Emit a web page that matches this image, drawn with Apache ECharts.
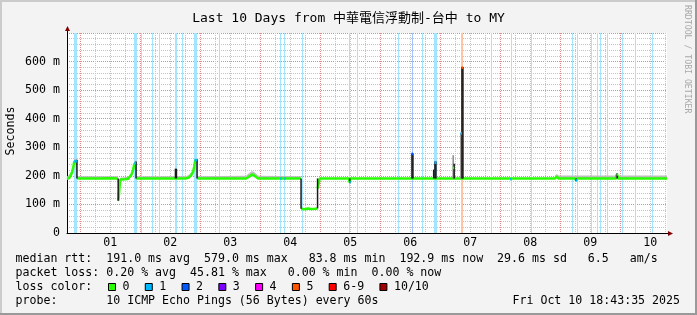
<!DOCTYPE html>
<html><head><meta charset="utf-8">
<script src="https://cdn.jsdelivr.net/npm/echarts@6/dist/echarts.min.js"></script>
<style>html,body{margin:0;padding:0;background:#f3f3f3}#c{width:697px;height:315px}</style>
</head><body><div id="c"></div>
<script>
// time axis in hours relative to Oct 1 00:00 (window: Sep 30 18:43:35 .. Oct 10 18:43:35)
const START_H = -5.2736;
const END_H = 234.7264;
const dayLabels = ['01','02','03','04','05','06','07','08','09','10'];
const titleText = 'Last 10 Days from 中華電信浮動制-台中 to MY';
const yName = 'Seconds';

// median rtt (ms) [hour, value]; null = break
const medianPts = [
 [-5.27,190],[-4.4,192],[-3.6,205],[-3.2,214],[-2.8,228],[-2.4,250],[-2.0,254],[-1.35,250],[-1.3,null],
 [-1.25,191],[8,191],[12,192],[15.0,191],[15.1,null],
 [15.3,113],[15.6,145],[16.0,187],[18.0,188],[19.2,190],[20.0,196],[20.6,206],[21.2,222],[21.6,240],[22.3,246],[22.35,null],
 [22.4,191],[30,191],[42.4,191],[43.6,195],[44.4,203],[45.2,214],[45.6,232],[46.0,254],[46.7,256],[46.75,null],
 [46.8,191],[66.4,191],[67.6,198],[68.8,205],[70.0,199],[71.2,191],[88.3,191],[88.35,null],
 [88.4,85],[90.0,83],[91.2,86],[92.4,84],[93.2,90],[94.0,85],[94.9,86],[94.95,null],
 [95.0,156],[95.4,160],[95.8,191],[107.5,191],[107.8,177],[108.1,191],[190.0,191],[190.6,199],[191.2,191],
 [198.0,191],[198.4,183],[198.8,191],[214.4,191],[214.8,204],[215.2,191],[234.73,191]
];
// dense smoke columns [hour, low, high]
const darkSmoke = [
 [-1.3,191,256],[15.2,113,191],[22.35,191,250],[38.1,191,225],[38.5,191,225],[46.75,191,258],
 [88.35,85,191],[94.95,86,191],[107.8,176,191],[132.7,191,278],[133.1,191,278],[141.4,191,222],
 [141.9,191,250],[142.3,191,250],[149.6,191,242],[152.7,191,581],[153.1,191,581],[198.4,182,191],[214.8,191,210]
];
const greySmoke = [[149.2,191,272],[152.3,191,350],[214.4,191,206]];
// light smoke band runs [hour, low, high]
const smokeRuns = [
 [[-5.27,187,198],[-4.4,188,203],[-3.6,198,216],[-2.8,212,238],[-2.4,236,259],[-1.35,240,259]],
 [[-1.25,189,199],[15.0,189,199]],
 [[16.0,184,193],[19.2,187,197],[20.0,192,204],[20.6,200,215],[21.2,214,232],[21.6,232,250],[22.3,238,252]],
 [[22.4,189,199],[42.4,189,199],[43.6,190,204],[44.4,196,212],[45.2,205,226],[45.6,222,244],[46.0,246,260],[46.7,248,260]],
 [[46.8,189,199],[66.4,189,200],[67.6,192,210],[68.8,197,217],[70.0,194,211],[71.2,189,200],[88.3,189,199]],
 [[190.0,189,200],[190.6,190,207],[191.2,189,201],[234.73,189,201]]
];
// packet loss periods [startHour, endHour, lossLevel]
const lossBands = [
 [-2.28,-1.08,1],[21.72,22.68,1],[24.4,24.8,1],[28.8,29.2,1],[31.6,32.0,1],[38.0,38.8,1],[40.8,41.2,1],
 [45.6,46.68,1],[55.6,56.0,1],[80.0,80.4,1],[81.6,82.0,1],[88.6,89.0,1],[107.6,108.0,1],[110.8,111.2,1],
 [127.2,127.6,1],[132.7,133.3,2],[136.6,137.0,1],[141.72,142.68,1],[152.2,152.6,1],[152.6,153.0,5],
 [164.2,164.6,1],[172.2,172.6,1],[180.2,180.6,1],[196.8,197.2,1],[198.6,199.0,1],[204.2,204.6,1],
 [206.8,207.2,1],[208.0,208.4,1],[210.6,211.0,1],[216.6,217.0,1],[222.0,222.4,1],[228.8,229.2,1]
];
// median segments coloured by loss [startHour, endHour, value, lossLevel]
const lossTips = [
 [-2.4,-1.3,251,1],[21.6,22.35,244,1],[45.7,46.75,255,1],[80.0,80.6,191,1],[81.6,82.0,191,1],
 [107.6,108.0,178,1],[132.5,133.2,277,2],[141.7,142.5,246,1],[149.0,149.6,228,0],[152.1,152.5,348,1],
 [152.5,153.2,579,5],[172.0,172.4,188,1],[198.2,198.6,184,1],[214.6,215.0,205,0]
];
const lossLabels = ['0','1','2','3','4','5','6-9','10/10'];
const lossColors = ['#26ff00','#00b8ff','#0059ff','#7e00ff','#ff00ff','#ff5500','#ff0000','#a10000'];
const legendRtt  = 'median rtt:  191.0 ms avg  579.0 ms max   83.8 ms min  192.9 ms now  29.6 ms sd   6.5   am/s';
const legendLoss = 'packet loss: 0.20 % avg  45.81 % max   0.00 % min  0.00 % now';
const legendProbe = 'probe:       10 ICMP Echo Pings (56 Bytes) every 60s';
const stampText = 'Fri Oct 10 18:43:35 2025';

const MONO = "'DejaVu Sans Mono', monospace";
const TFONT = "'DejaVu Sans Mono', 'Noto Sans CJK TC', monospace";
function light(hex, a) {
  const n = parseInt(hex.slice(1), 16), r = n >> 16, g = (n >> 8) & 255, b = n & 255;
  const m = c => Math.round(c * a + 255 * (1 - a));
  return 'rgb(' + m(r) + ',' + m(g) + ',' + m(b) + ')';
}
const majors = [], minors = [];
for (let h = 0; h <= END_H; h += 6) (h % 24 === 0 ? majors : minors).push(h);
const labelHours = dayLabels.map((d, i) => 12 + 24 * i);
const smokeSegs = [];
smokeRuns.forEach(run => { for (let i = 0; i < run.length - 1; i++) smokeSegs.push(run[i].concat(run[i + 1])); });

const chart = echarts.init(document.getElementById('c'), null, {renderer: 'canvas', width: 697, height: 315});
const xBase = {type: 'value', min: START_H, max: END_H, gridIndex: 0};
const gridLineX = (vals, color) => Object.assign({}, xBase, {
  axisLine: {show: false, onZero: false}, axisLabel: {show: false},
  axisTick: {show: false, customValues: vals},
  splitLine: {show: true, lineStyle: {color: color, type: [1, 1], width: 1}}
});

const graphics = [];
// frame shading
graphics.push({type: 'rect', shape: {x: 0, y: 0, width: 697, height: 2}, style: {fill: '#cbcbcb'}, silent: true});
graphics.push({type: 'rect', shape: {x: 0, y: 0, width: 2, height: 315}, style: {fill: '#cbcbcb'}, silent: true});
graphics.push({type: 'rect', shape: {x: 0, y: 313, width: 697, height: 2}, style: {fill: '#999999'}, silent: true});
graphics.push({type: 'rect', shape: {x: 695, y: 0, width: 2, height: 315}, style: {fill: '#999999'}, silent: true});
// axis arrows
graphics.push({type: 'line', shape: {x1: 67.5, y1: 33, x2: 67.5, y2: 29}, style: {stroke: '#000', lineWidth: 1}, z: 10});
graphics.push({type: 'polygon', shape: {points: [[67.5, 26], [65, 31], [70, 31]]}, style: {fill: '#800000'}, z: 10});
graphics.push({type: 'line', shape: {x1: 667, y1: 233.5, x2: 669, y2: 233.5}, style: {stroke: '#000', lineWidth: 1}, z: 10});
graphics.push({type: 'polygon', shape: {points: [[673, 233.5], [668, 231], [668, 236]]}, style: {fill: '#800000'}, z: 10});
// y-axis title
graphics.push({type: 'text', x: 11, y: 131, rotation: Math.PI / 2,
  style: {text: yName, font: "11.6px 'DejaVu Sans Mono'", fill: '#000', textAlign: 'center', textVerticalAlign: 'middle'}});
// watermark
graphics.push({type: 'text', x: 687.5, y: 5, rotation: -Math.PI / 2,
  style: {text: 'RRDTOOL / TOBI OETIKER', font: "8.2px 'DejaVu Sans Mono'", fill: '#a8a8a8', textAlign: 'left', textVerticalAlign: 'middle'}});
// legend text
const lt = (x, y, text, align) => ({type: 'text', x: x, y: y,
  style: {text: text, font: "11.6px 'DejaVu Sans Mono'", fill: '#000', textAlign: align || 'left', textVerticalAlign: 'middle'}});
graphics.push(lt(15.5, 259, legendRtt));
graphics.push(lt(15.5, 273, legendLoss));
graphics.push(lt(15.5, 287, 'loss color:'));
graphics.push(lt(15.5, 301, legendProbe));
graphics.push(lt(680, 301, stampText, 'right'));
let bx = 108.5;
lossLabels.forEach((lab, i) => {
  graphics.push({type: 'rect', shape: {x: bx, y: 283.5, width: 7, height: 7}, style: {fill: lossColors[i], stroke: '#000', lineWidth: 1}});
  graphics.push(lt(bx + 14, 287, lab));
  bx += 14 + lab.length * 6.98 + 15.8;
});

chart.setOption({
  animation: false,
  backgroundColor: '#f3f3f3',
  title: {text: titleText, left: 'center', top: 5,
    textStyle: {fontFamily: TFONT, fontSize: 13, fontWeight: 'normal', color: '#000', lineHeight: 18}},
  grid: {left: 67, top: 33, width: 600, height: 200, show: true, backgroundColor: '#ffffff', borderWidth: 0,
    containLabel: false, outerBoundsMode: 'none'},
  xAxis: [
    Object.assign({}, xBase, {
      axisLine: {show: true, onZero: false, lineStyle: {color: '#000', width: 1}},
      axisTick: {show: false},
      splitLine: {show: false},
      axisLabel: {show: true, customValues: labelHours, margin: 4, fontFamily: MONO, fontSize: 11.6, color: '#000',
        formatter: v => dayLabels[Math.round((v - 12) / 24)] || ''}
    }),
    gridLineX(minors, '#c4c4c4'),
    gridLineX(majors, '#e28a8a')
  ],
  yAxis: {type: 'value', min: 0, max: 700, interval: 100,
    axisLine: {show: true, onZero: false, lineStyle: {color: '#000', width: 1}},
    axisTick: {show: false},
    axisLabel: {fontFamily: MONO, fontSize: 11.6, color: '#000', margin: 7,
      formatter: v => v === 0 ? '0' : (v >= 700 ? '' : v + ' m')},
    splitLine: {show: true, lineStyle: {color: '#e28a8a', type: [1, 1], width: 1}},
    minorTick: {show: false, splitNumber: 5},
    minorSplitLine: {show: true, lineStyle: {color: '#c4c4c4', type: [1, 1], width: 1}}
  },
  series: [
    {type: 'custom', name: 'loss', z: 1, data: lossBands, encode: {x: [0, 1]}, silent: true,
      renderItem: (p, api) => {
        const a = api.coord([api.value(0), 700]), b = api.coord([api.value(1), 0]);
        const x = Math.round(a[0]), w = Math.max(1, Math.round(b[0]) - x);
        return {type: 'rect', shape: {x: x, y: a[1], width: w, height: b[1] - a[1]},
          style: {fill: light(lossColors[api.value(2)], 0.36)}};
      }},
    {type: 'custom', name: 'smoke', z: 2, data: smokeSegs, encode: {x: [0, 3], y: [1, 2]}, silent: true,
      renderItem: (p, api) => {
        const v = i => api.value(i);
        return {type: 'polygon', shape: {points: [api.coord([v(0), v(1)]), api.coord([v(3), v(4)]), api.coord([v(3), v(5)]), api.coord([v(0), v(2)])]},
          style: {fill: '#bdbdbd'}};
      }},
    {type: 'line', name: 'median', z: 3, data: medianPts, showSymbol: false, connectNulls: false, silent: true,
      lineStyle: {color: lossColors[0], width: 2.5}},
    {type: 'custom', name: 'smokeGrey', z: 4, data: greySmoke, encode: {x: 0, y: [1, 2]}, silent: true,
      renderItem: (p, api) => {
        const a = api.coord([api.value(0), api.value(1)]), b = api.coord([api.value(0), api.value(2)]);
        return {type: 'line', shape: {x1: a[0], y1: a[1], x2: a[0], y2: b[1]}, style: {stroke: '#8a8a8a', lineWidth: 1.5}};
      }},
    {type: 'custom', name: 'smokeDark', z: 5, data: darkSmoke, encode: {x: 0, y: [1, 2]}, silent: true,
      renderItem: (p, api) => {
        const a = api.coord([api.value(0), api.value(1)]), b = api.coord([api.value(0), api.value(2)]);
        return {type: 'line', shape: {x1: a[0], y1: a[1], x2: a[0], y2: b[1]}, style: {stroke: '#1a1a1a', lineWidth: 1.5}};
      }},
    {type: 'custom', name: 'lossMedian', z: 6, data: lossTips, encode: {x: [0, 1], y: 2}, silent: true,
      renderItem: (p, api) => {
        const a = api.coord([api.value(0), api.value(2)]), b = api.coord([api.value(1), api.value(2)]);
        return {type: 'line', shape: {x1: a[0], y1: a[1], x2: Math.max(b[0], a[0] + 1.5), y2: a[1]},
          style: {stroke: lossColors[api.value(3)], lineWidth: 2.5}};
      }}
  ],
  graphic: graphics
});
</script></body></html>
